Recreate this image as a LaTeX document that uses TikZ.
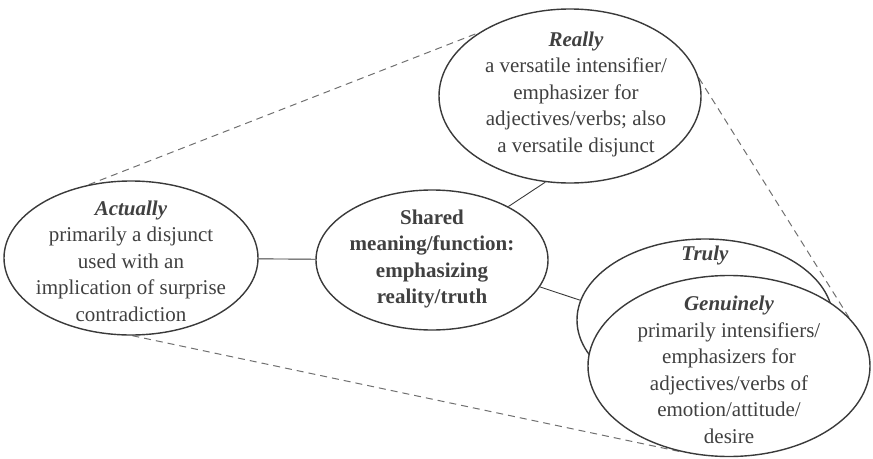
\documentclass[tikz,border=0pt]{standalone}
\usepackage{fontspec}
\setmainfont{Liberation Serif}
\usetikzlibrary{shapes.geometric,backgrounds}
\definecolor{txt}{HTML}{404040}
\definecolor{ln}{HTML}{3A3A3A}
\definecolor{dsh}{HTML}{707070}
\begin{document}
\begin{tikzpicture}[x=1pt,y=-1pt,
  oval/.style={ellipse, draw=ln, line width=1.4pt, fill=white, inner sep=0pt},
  body/.style={align=center, text=txt, font=\fontsize{21}{26.5}\selectfont, inner sep=0pt},
  link/.style={draw=ln, line width=0.9pt},
  guide/.style={draw=dsh, line width=1pt, dash pattern=on 7pt off 5pt}]
\useasboundingbox (0,0) rectangle (873,458);
% ellipses
\node[oval, minimum width=254pt, minimum height=154pt] (act) at (131,258) {};
\node[oval, minimum width=232pt, minimum height=140pt] (sh) at (432,260) {};
\node[oval, minimum width=262pt, minimum height=174pt] (rea) at (570,96) {};
\node[oval, minimum width=256pt, minimum height=162pt] (tru) at (705,320) {};
\node[oval, minimum width=282pt, minimum height=181pt] (gen) at (729,366) {};
% texts
\node[body] (reat) at (576,94) {\textbf{\textit{Really}}\\a versatile intensifier/\\emphasizer for\\adjectives/verbs; also\\a versatile disjunct};
\node[body] (actt) at (131,261) {\textbf{\textit{Actually}}\\primarily a disjunct\\used with an\\implication of surprise\\contradiction};
\node[body] (sht) at (432,259) {\textbf{Shared}\\\textbf{meaning/function:}\\\textbf{emphasizing}\\\textbf{reality/truth}};
\node[body] (trut) at (705,255) {\textbf{\textit{Truly}}};
\node[body] (gent) at (729,370) {\textbf{\textit{Genuinely}}\\primarily intensifiers/\\emphasizers for\\adjectives/verbs of\\emotion/attitude/\\desire};
% connectors
\begin{scope}[on background layer]
\draw[link] (act) -- (sh);
\draw[link] (sh.35) -- (rea.254);
\draw[link] (sh.-14) -- (tru.171);
\draw[guide] (act.120) -- (rea.145);
\draw[guide] (rea.8) -- (gen.22);
\draw[guide] (act.271) -- (gen.241);
\end{scope}
\end{tikzpicture}
\end{document}
